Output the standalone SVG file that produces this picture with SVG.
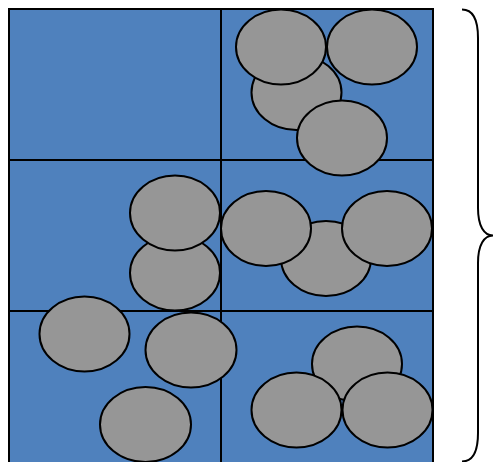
<svg xmlns="http://www.w3.org/2000/svg" width="495" height="462" viewBox="0 0 495 462">
<style>
.cell{fill:#4f81bd;stroke:#000;stroke-width:2}
.line{stroke:#000;stroke-width:2;fill:none}
.b{fill:#969696;stroke:#000;stroke-width:2}
</style>
<g id="grid">
<rect class="cell" x="9" y="9" width="424" height="456"/>
<line class="line" x1="221" y1="9" x2="221" y2="465"/>
<line class="line" x1="9" y1="160" x2="433" y2="160"/>
<line class="line" x1="9" y1="311" x2="433" y2="311"/>
</g>
<g id="balls">
<ellipse class="b" cx="296.5" cy="92.5" rx="45" ry="37.5"/>
<ellipse class="b" cx="281" cy="47" rx="45" ry="37.5"/>
<ellipse class="b" cx="372" cy="47" rx="45" ry="37.5"/>
<ellipse class="b" cx="342" cy="138" rx="45" ry="37.5"/>
<ellipse class="b" cx="175" cy="273" rx="45" ry="37.5"/>
<ellipse class="b" cx="175" cy="213" rx="45" ry="37.5"/>
<ellipse class="b" cx="326" cy="258.5" rx="45" ry="37.5"/>
<ellipse class="b" cx="266" cy="228.5" rx="45" ry="37.5"/>
<ellipse class="b" cx="387" cy="228.5" rx="45" ry="37.5"/>
<ellipse class="b" cx="84.5" cy="334" rx="45" ry="37.5"/>
<ellipse class="b" cx="191" cy="350" rx="45.5" ry="37.5"/>
<ellipse class="b" cx="145.5" cy="424.5" rx="45.5" ry="37.5"/>
<ellipse class="b" cx="357" cy="364" rx="45" ry="37.5"/>
<ellipse class="b" cx="296.5" cy="410" rx="45" ry="37.5"/>
<ellipse class="b" cx="387.5" cy="410" rx="45" ry="37.5"/>
</g>
<g id="brace">
<path class="line" d="M462,9.5 C472,9.5 478,18 478,38 L478,208 C478,226 484,235.5 493,235.5 C484,235.5 478,245 478,263 L478,433 C478,453 472,461.5 462,461.5"/>
</g>
</svg>
